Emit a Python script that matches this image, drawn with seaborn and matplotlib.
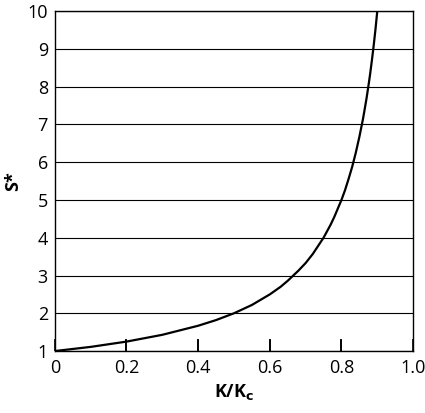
import pandas as pd
import matplotlib
matplotlib.use("Agg")
import matplotlib.pyplot as plt
import seaborn as sns

# --- data ---
k_ratio = [0.0, 0.1, 0.2, 0.3, 0.4, 0.45, 0.5, 0.55, 0.6, 0.63, 0.65, 0.68, 0.7,
           0.72, 0.75, 0.77, 0.78, 0.8, 0.81, 0.82, 0.83, 0.84, 0.85, 0.86,
           0.865, 0.87, 0.875, 0.88, 0.885, 0.89, 0.895, 0.9]
s_star = [1.0, 1.11, 1.25, 1.43, 1.67, 1.82, 2.0, 2.22, 2.5, 2.7, 2.86, 3.13, 3.33,
          3.57, 4.0, 4.35, 4.55, 5.0, 5.26, 5.56, 5.88, 6.25, 6.67, 7.14,
          7.41, 7.69, 8.0, 8.33, 8.7, 9.09, 9.52, 10.0]
x_ticks = [0, 0.2, 0.4, 0.6, 0.8, 1.0]
x_tick_labels = ["0", "0.2", "0.4", "0.6", "0.8", "1.0"]
y_ticks = [1, 2, 3, 4, 5, 6, 7, 8, 9, 10]

df = pd.DataFrame({"K/Kc": k_ratio, "S*": s_star})

sns.set_style("white")
plt.rcParams["font.family"] = ["Open Sans", "DejaVu Sans"]

fig = plt.figure(figsize=(4.25, 4.13), dpi=100)
ax = fig.add_axes([0.129, 0.150, 0.843, 0.823])

# horizontal grid lines
for y in y_ticks:
    ax.axhline(y, color="black", lw=0.8, zorder=1)

sns.lineplot(data=df, x="K/Kc", y="S*", ax=ax, color="black", lw=1.6, zorder=3)

ax.set_xlim(0, 1.0)
ax.set_ylim(1, 10)
ax.set_xticks(x_ticks)
ax.set_xticklabels(x_tick_labels)
ax.set_yticks(y_ticks)
ax.tick_params(axis="x", bottom=True, direction="in", length=9, width=1.2,
               color="black", labelsize=13, pad=6, labelcolor="black")
ax.tick_params(axis="y", left=False, length=0, labelsize=13, pad=5, labelcolor="black")
for s in ax.spines.values():
    s.set_color("black")
    s.set_linewidth(1.0)

# inward tick marks along the bottom (drawn on top as well)
for xt in x_ticks[1:-1]:
    ax.axvline(xt, ymin=0, ymax=0.033, color="black", lw=1.2, zorder=5)

ax.set_xlabel("K/K$_\\mathbf{c}$", fontsize=13, fontweight="bold", labelpad=3, color="black")
ax.set_ylabel("S*", fontsize=13, fontweight="bold", labelpad=4, color="black")

fig.savefig("out.png", dpi=100)
